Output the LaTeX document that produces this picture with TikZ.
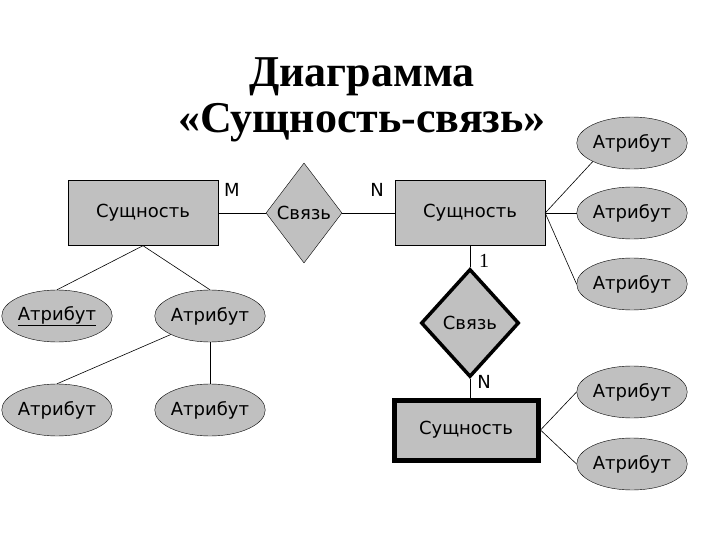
\documentclass[tikz,border=0pt]{standalone}
\usepackage{fontspec}
\setmainfont{DejaVu Sans}
\newfontfamily\titlefont{Liberation Serif}
\usetikzlibrary{shapes.geometric}
\definecolor{eg}{HTML}{C0C0C0}
\tikzset{
 ent/.style={draw,fill=eg,minimum width=150pt,minimum height=65pt,inner sep=0pt,font=\fontsize{18}{22}\selectfont},
 rel/.style={draw,fill=eg,diamond,inner sep=0pt,minimum width=76pt,minimum height=100pt,font=\fontsize{18}{22}\selectfont},
 attr/.style={draw,fill=eg,ellipse,inner sep=0pt,minimum width=100pt,minimum height=52pt,font=\fontsize{18}{22}\selectfont},
 lbl/.style={font=\fontsize{18}{22}\selectfont,inner sep=0pt},
 ln/.style={draw,line width=0.6pt}
}
\begin{document}
\begin{tikzpicture}[x=1pt,y=-1pt]
\useasboundingbox (0,0) rectangle (720,540);
\node[font=\titlefont\bfseries\fontsize{44}{46}\selectfont,align=center] (title) at (362,100) {Диаграмма\\«Сущность-связь»};
\node[ent] (e1) at (143,213) {Сущность};
\node[rel] (r1) at (304,213) {Связь};
\node[ent] (e2) at (470,213) {Сущность};
\node[rel,line width=3.5pt,minimum width=98pt,minimum height=108pt] (r2) at (470,323) {Связь};
\node[ent,line width=5pt,minimum width=144pt,minimum height=60pt] (e3) at (466,430) {Сущность};
\node[attr] (a1) at (632,143) {Атрибут};
\node[attr] (a2) at (632,213) {Атрибут};
\node[attr] (a3) at (632,284) {Атрибут};
\node[attr] (a4) at (632,392) {Атрибут};
\node[attr] (a5) at (632,464) {Атрибут};
\node[attr] (b1) at (57,316) {\underline{Атрибут}};
\node[attr] (b2) at (210,316) {Атрибут};
\node[attr] (b3) at (57,410) {Атрибут};
\node[attr] (b4) at (210,410) {Атрибут};
\node[lbl] (m) at (232,190) {M};
\node[lbl] (n1) at (377,190) {N};
\node[lbl,font=\titlefont\fontsize{20}{22}\selectfont] (one) at (484,261) {1};
\node[lbl] (n2) at (484,382) {N};
\draw[ln] (e1.east) -- (r1.west);
\draw[ln] (r1.east) -- (e2.west);
\draw[ln] (e2.south) -- (r2.north);
\draw[ln] (r2.south) -- (r2.south |- e3.north);
\draw[ln] (e2.east) -- (a1.south west);
\draw[ln] (e2.east) -- (a2.west);
\draw[ln] (e2.east) -- (a3.west);
\draw[ln] (e3.east) -- (a4.west);
\draw[ln] (e3.east) -- (a5.west);
\draw[ln] (e1.south) -- (b1.north);
\draw[ln] (e1.south) -- (b2.north);
\draw[ln] (b2.south west) -- (b3.north);
\draw[ln] (b2.south) -- (b4.north);
\end{tikzpicture}
\end{document}
